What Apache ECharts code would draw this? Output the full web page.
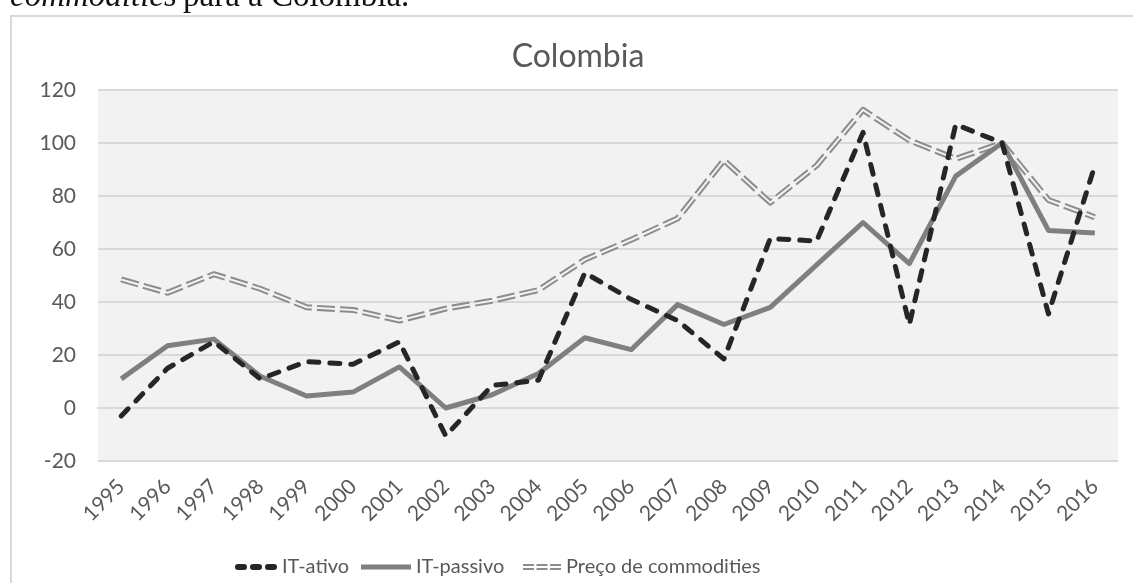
<!DOCTYPE html>
<html>
<head>
<meta charset="utf-8">
<script src="https://cdn.jsdelivr.net/npm/echarts@6/dist/echarts.min.js"></script>
<style>
  html, body { margin: 0; padding: 0; background: #ffffff; }
  #chart { width: 1133px; height: 583px; }
</style>
</head>
<body>
<div id="chart"></div>
<script>
// Anos da série
const years = ['1995','1996','1997','1998','1999','2000','2001','2002','2003','2004','2005',
               '2006','2007','2008','2009','2010','2011','2012','2013','2014','2015','2016'];

// Índices (2014 = 100)
const itAtivo = [-3, 15, 25, 11, 17.5, 16.5, 25, -10.5, 8.5, 10.5, 51, 41, 33, 18.5, 64, 63, 104, 31.5, 107, 100, 35.5, 91.5];
const itPassivo = [11, 23.5, 26, 12, 4.5, 6, 15.5, 0, 5, 13, 26.5, 22, 39, 31.5, 38, 54, 70, 54.5, 87.5, 100, 67, 66];
const commodities = [48.5, 43.5, 50.5, 45, 38, 37, 33, 37.5, 40.5, 44.5, 56, 63.5, 71.5, 93.5, 77.5, 91.5, 112.5, 101, 94, 100, 78.5, 72];

// Eixo vertical
const yMin = -20, yMax = 120, yStep = 20;

const names = ['IT-ativo', 'IT-passivo', 'Preço de commodities'];

const FONT = 'Lato';
const TEXT = '#595959';
const GRID = '#d9d9d9';
const PLOT_BG = '#f2f2f2';

// Ícones da legenda
function roundDash(a, b, h) {
  const r = h / 2;
  return `M${a + r},0 H${b - r} A${r},${r} 0 0 1 ${b - r},${h} H${a + r} A${r},${r} 0 0 1 ${a + r},0 Z `;
}
const dashIcon = 'path://' + roundDash(0, 12, 6) + roundDash(15, 27, 6) + roundDash(30, 42, 6);
let dbl = '';
for (let i = 0; i < 3; i++) {
  const x0 = i * 13.5;
  dbl += `M${x0},0 H${x0 + 11} V2 H${x0} Z M${x0},4 H${x0 + 11} V6 H${x0} Z `;
}
const doubleIcon = 'path://' + dbl;

const chart = echarts.init(document.getElementById('chart'), null, { renderer: 'canvas' });

const legendText = { color: TEXT, fontFamily: FONT, fontSize: 20 };

chart.setOption({
  backgroundColor: '#ffffff',
  animation: false,
  graphic: [
    {
      type: 'rect',
      shape: { x: 11, y: 16, width: 1300, height: 700 },
      style: { fill: 'none', stroke: GRID, lineWidth: 2 },
      silent: true, z: -10
    },
    {
      type: 'text', x: 10, y: -3,
      style: { text: 'commodities', font: 'italic 33px "Liberation Serif"', fill: '#111111', verticalAlign: 'middle' }
    },
    {
      type: 'text', x: 183, y: -3,
      style: { text: 'para a Colombia.', font: '33px "Liberation Serif"', fill: '#111111', verticalAlign: 'middle' }
    },
    {
      type: 'text', x: 578, y: 57,
      style: { text: 'Colombia', font: '32px ' + FONT, fill: TEXT, align: 'center', verticalAlign: 'middle' }
    }
  ],
  legend: [
    {
      left: 230, top: 552, itemWidth: 42, itemHeight: 6, selectedMode: false,
      textStyle: legendText,
      data: [{ name: names[0], icon: dashIcon, itemStyle: { color: '#262626', borderWidth: 0 } }]
    },
    {
      left: 356, top: 552, itemWidth: 50, itemHeight: 5, selectedMode: false,
      textStyle: legendText,
      data: [{ name: names[1], icon: 'rect', itemStyle: { color: '#7f7f7f', borderWidth: 0 } }]
    },
    {
      left: 518, top: 552, itemWidth: 38, itemHeight: 6, selectedMode: false,
      textStyle: legendText,
      data: [{ name: names[2], icon: doubleIcon, itemStyle: { color: '#8c8c8c', borderWidth: 0 } }]
    }
  ],
  grid: {
    left: 98, top: 90, width: 1020, height: 371,
    show: true, backgroundColor: PLOT_BG, borderWidth: 0
  },
  xAxis: {
    type: 'category',
    data: years,
    boundaryGap: true,
    axisLine: { show: true, lineStyle: { color: GRID, width: 2 } },
    axisTick: { show: false },
    axisLabel: {
      interval: 0, rotate: 45, margin: 22,
      color: TEXT, fontFamily: FONT, fontSize: 21
    },
    splitLine: { show: false }
  },
  yAxis: {
    type: 'value',
    min: yMin, max: yMax, interval: yStep,
    axisLine: { show: false },
    axisTick: { show: false },
    axisLabel: { color: TEXT, fontFamily: FONT, fontSize: 21, margin: 22 },
    splitLine: { show: true, lineStyle: { color: GRID, width: 2 } }
  },
  series: [
    {
      name: names[2], type: 'line', data: commodities,
      symbol: 'none', silent: true, emphasis: { disabled: true },
      itemStyle: { color: '#8c8c8c' },
      lineStyle: { color: '#8c8c8c', width: 6, type: [18, 5], join: 'round' },
      z: 2
    },
    {
      name: names[2], type: 'line', data: commodities,
      symbol: 'none', silent: true, emphasis: { disabled: true },
      itemStyle: { color: PLOT_BG },
      lineStyle: { color: PLOT_BG, width: 2, join: 'round' },
      z: 3
    },
    {
      name: names[1], type: 'line', data: itPassivo,
      symbol: 'none', silent: true, emphasis: { disabled: true },
      itemStyle: { color: '#7f7f7f' },
      lineStyle: { color: '#7f7f7f', width: 5, join: 'round' },
      z: 4
    },
    {
      name: names[0], type: 'line', data: itAtivo,
      symbol: 'none', silent: true, emphasis: { disabled: true },
      itemStyle: { color: '#262626' },
      lineStyle: { color: '#262626', width: 5, type: [10, 11], cap: 'round', join: 'round' },
      z: 5
    }
  ]
});
</script>
</body>
</html>
